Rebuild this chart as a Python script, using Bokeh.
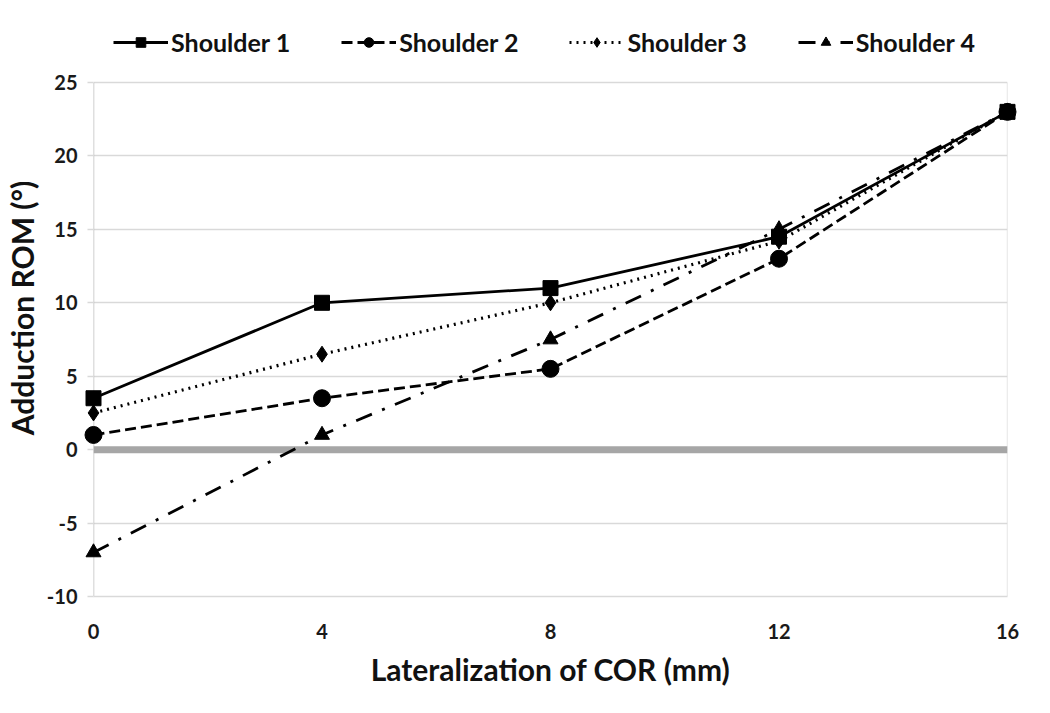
from bokeh.plotting import figure
from bokeh.models import Range1d, Span, Legend, FixedTicker
from bokeh.embed import file_html
from bokeh.resources import INLINE

x_mm = [0, 4, 8, 12, 16]
shoulder1 = [3.5, 10, 11, 14.5, 23]
shoulder2 = [1, 3.5, 5.5, 13, 23]
shoulder3 = [2.5, 6.5, 10, 14.2, 23]
shoulder4 = [-7, 1, 7.5, 15, 23]
y_ticks = [-10, -5, 0, 5, 10, 15, 20, 25]
x_ticks = [0, 4, 8, 12, 16]

FONT = "Lato"

# extra headroom above the top tick to hold the legend inside the frame
HEAD = 4.29

p = figure(width=1034, height=697, output_backend="svg", toolbar_location=None,
           x_range=Range1d(x_ticks[0], x_ticks[-1]),
           y_range=Range1d(y_ticks[0], y_ticks[-1] + HEAD),
           min_border_left=85, min_border_right=27, min_border_top=19, min_border_bottom=101)
p.outline_line_color = None
p.background_fill_color = "white"

p.xgrid.grid_line_color = None
p.ygrid.grid_line_color = "#d9d9d9"
p.ygrid.grid_line_width = 1.3
p.yaxis.ticker = FixedTicker(ticks=y_ticks)
p.xaxis.ticker = FixedTicker(ticks=x_ticks)
p.yaxis.major_label_overrides = {t: str(t) for t in y_ticks}
p.xaxis.major_label_overrides = {t: str(t) for t in x_ticks}

p.yaxis.axis_line_color = None
p.yaxis.major_tick_line_color = "#d9d9d9"
p.yaxis.major_tick_line_width = 1.3
p.yaxis.major_tick_out = 6
p.yaxis.major_tick_in = 0
p.yaxis.minor_tick_line_color = None
p.yaxis.major_label_standoff = 10
p.yaxis.major_label_text_font = FONT
p.yaxis.major_label_text_font_style = "bold"
p.yaxis.major_label_text_font_size = "20px"
p.yaxis.major_label_text_color = "#1a1a1a"
p.yaxis.axis_label = "Adduction ROM (°)"
p.yaxis.axis_label_text_font = FONT
p.yaxis.axis_label_text_font_style = "bold"
p.yaxis.axis_label_text_font_size = "30px"
p.yaxis.axis_label_text_color = "#111111"
p.yaxis.axis_label_standoff = 4

p.xaxis.axis_line_color = "#d9d9d9"
p.xaxis.axis_line_width = 1.3
p.xaxis.major_tick_line_color = None
p.xaxis.minor_tick_line_color = None
p.xaxis.major_tick_out = 0
p.xaxis.major_label_standoff = 27
p.xaxis.major_label_text_font = FONT
p.xaxis.major_label_text_font_style = "bold"
p.xaxis.major_label_text_font_size = "20px"
p.xaxis.major_label_text_color = "#1a1a1a"
p.xaxis.axis_label = "Lateralization of COR (mm)"
p.xaxis.axis_label_text_font = FONT
p.xaxis.axis_label_text_font_style = "bold"
p.xaxis.axis_label_text_font_size = "30px"
p.xaxis.axis_label_text_color = "#111111"
p.xaxis.axis_label_standoff = 9

# plot-area side lines (left axis line, right border)
p.segment(x0=[x_ticks[0]], y0=[y_ticks[0]], x1=[x_ticks[0]], y1=[y_ticks[-1]],
          line_color="#bfbfbf", line_width=1.5)
p.segment(x0=[x_ticks[-1]], y0=[y_ticks[0]], x1=[x_ticks[-1]], y1=[y_ticks[-1]],
          line_color="#d9d9d9", line_width=1.3)
p.add_layout(Span(location=0, dimension="width", line_color="#a6a6a6", line_width=7))

series = [
    ("Shoulder 4", shoulder4, "17 11 3 11", "triangle", 15),
    ("Shoulder 3", shoulder3, "2 5", "diamond", 16),
    ("Shoulder 2", shoulder2, "11 5", "circle", 17),
    ("Shoulder 1", shoulder1, "solid", "square", 15),
]
rends = {}
for name, ys, dash, marker, size in series:
    lw = 3.2 if marker == "diamond" else 2.8
    l = p.line(x_mm, ys, line_color="black", line_width=lw, line_dash=dash, level="overlay")
    s = p.scatter(x_mm, ys, marker=marker, size=size, fill_color="black", line_color="black",
                  level="overlay")
    rends[name] = [l, s]

legend = Legend(items=[(n, rends[n]) for n in ["Shoulder 1", "Shoulder 2", "Shoulder 3", "Shoulder 4"]],
                orientation="horizontal", location=(20, 539))
legend.label_text_font = FONT
legend.label_text_font_style = "bold"
legend.label_text_font_size = "25px"
legend.label_text_color = "#111111"
legend.glyph_width = 55
legend.glyph_height = 24
legend.label_standoff = 3
legend.spacing = 51
legend.border_line_color = None
legend.background_fill_alpha = 0
legend.padding = 0
legend.margin = 0
p.add_layout(legend)

open("out.html", "w").write(file_html(p, INLINE))
